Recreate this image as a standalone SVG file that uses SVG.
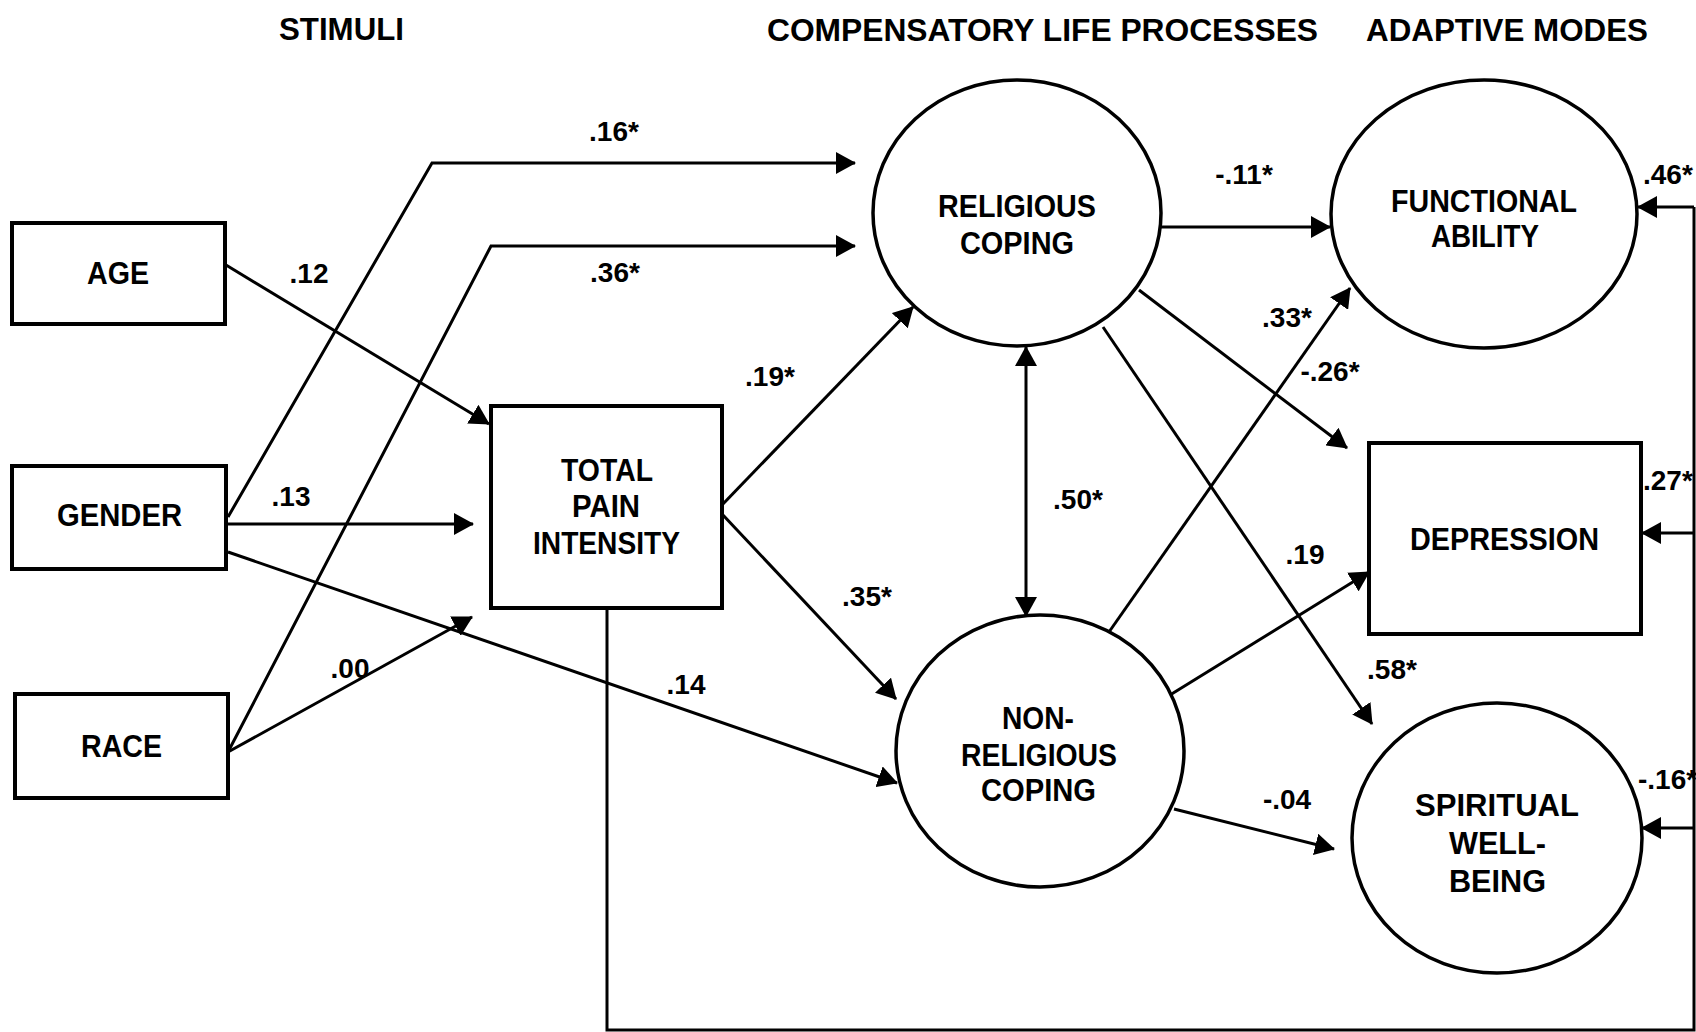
<svg xmlns="http://www.w3.org/2000/svg" width="1696" height="1032" viewBox="0 0 1696 1032">
<defs>
<style>
.box{fill:#fff;stroke:#000;stroke-width:4}
.ell{fill:#fff;stroke:#000;stroke-width:3.5}
.ln{fill:none;stroke:#000;stroke-width:3}
.arr{marker-end:url(#ah)}
text{font-family:"Liberation Sans",Arial,sans-serif;font-weight:bold;fill:#000}
.t{font-size:31px;text-anchor:middle}
.n{font-size:32px;text-anchor:middle}
.l{font-size:28px;text-anchor:middle}
.ls{font-size:28px;text-anchor:start}
</style>
<marker id="ah" viewBox="0 0 20 22" refX="19" refY="11" markerWidth="20" markerHeight="22" markerUnits="userSpaceOnUse" orient="auto-start-reverse">
<path d="M0,0 L20,11 L0,22 z" fill="#000"/>
</marker>
</defs>
<rect width="1696" height="1032" fill="#fff"/>

<g id="titles">
<text class="t" x="341.5" y="40" textLength="125" lengthAdjust="spacingAndGlyphs">STIMULI</text>
<text class="t" x="1042.5" y="41" textLength="551" lengthAdjust="spacingAndGlyphs">COMPENSATORY LIFE PROCESSES</text>
<text class="t" x="1507" y="41" textLength="282" lengthAdjust="spacingAndGlyphs">ADAPTIVE MODES</text>
</g>

<g id="connectors">
<path class="ln arr" d="M226 265 L489 424"/>
<path class="ln arr" d="M228 517 L432 163 L855 163"/>
<path class="ln arr" d="M228 752 L491 246 L855 246"/>
<path class="ln arr" d="M228 524 L473 524"/>
<path class="ln arr" d="M228 752 L472 617"/>
<path class="ln arr" d="M228 552 L897 783"/>
<path class="ln arr" d="M722 505 L913 307"/>
<path class="ln arr" d="M722 514 L896 699"/>
<path class="ln arr" d="M1161 227 L1330 227"/>
<path class="ln arr" d="M1026 347 L1026 616" marker-start="url(#ah)"/>
<path class="ln arr" d="M1139 290 L1347 448"/>
<path class="ln arr" d="M1103 327 L1372 724"/>
<path class="ln arr" d="M1109 632 L1350 288"/>
<path class="ln arr" d="M1170 695 L1369 572"/>
<path class="ln arr" d="M1174 809 L1334 849"/>
<path class="ln" d="M607 608 V1030 H1694 V207"/>
<path class="ln arr" d="M1694 207 H1638"/>
<path class="ln arr" d="M1694 533 H1642"/>
<path class="ln arr" d="M1694 828 H1642"/>
</g>

<g id="edge-labels">
<text class="l" x="614" y="141">.16*</text>
<text class="l" x="615" y="282">.36*</text>
<text class="l" x="309" y="283">.12</text>
<text class="l" x="291" y="506">.13</text>
<text class="l" x="350" y="678">.00</text>
<text class="l" x="686" y="694">.14</text>
<text class="l" x="770" y="386">.19*</text>
<text class="l" x="867" y="606">.35*</text>
<text class="l" x="1244" y="184">-.11*</text>
<text class="l" x="1287" y="327">.33*</text>
<text class="l" x="1330" y="381">-.26*</text>
<text class="l" x="1078" y="509">.50*</text>
<text class="l" x="1305" y="564">.19</text>
<text class="l" x="1392" y="679">.58*</text>
<text class="l" x="1287" y="809">-.04</text>
<text class="ls" x="1643" y="184">.46*</text>
<text class="ls" x="1643" y="490">.27*</text>
<text class="ls" x="1638" y="789">-.16*</text>
</g>

<g id="age">
<rect class="box" x="12" y="223" width="213" height="101"/>
<text class="n" x="118" y="284" textLength="62" lengthAdjust="spacingAndGlyphs">AGE</text>
</g>
<g id="gender">
<rect class="box" x="12" y="466" width="214" height="103"/>
<text class="n" x="119.5" y="526" textLength="125" lengthAdjust="spacingAndGlyphs">GENDER</text>
</g>
<g id="race">
<rect class="box" x="15" y="694" width="213" height="104"/>
<text class="n" x="121.5" y="757" textLength="81" lengthAdjust="spacingAndGlyphs">RACE</text>
</g>
<g id="total-pain">
<rect class="box" x="491" y="406" width="231" height="202"/>
<text class="n" x="607" y="481" textLength="92" lengthAdjust="spacingAndGlyphs">TOTAL</text>
<text class="n" x="606" y="517" textLength="68" lengthAdjust="spacingAndGlyphs">PAIN</text>
<text class="n" x="606.5" y="554" textLength="147" lengthAdjust="spacingAndGlyphs">INTENSITY</text>
</g>
<g id="religious-coping">
<ellipse class="ell" cx="1017" cy="213" rx="144" ry="133"/>
<text class="n" x="1017" y="217" textLength="158" lengthAdjust="spacingAndGlyphs">RELIGIOUS</text>
<text class="n" x="1017" y="254" textLength="114" lengthAdjust="spacingAndGlyphs">COPING</text>
</g>
<g id="non-religious-coping">
<ellipse class="ell" cx="1040" cy="751" rx="144" ry="136"/>
<text class="n" x="1038" y="729" textLength="72" lengthAdjust="spacingAndGlyphs">NON-</text>
<text class="n" x="1039" y="766" textLength="156" lengthAdjust="spacingAndGlyphs">RELIGIOUS</text>
<text class="n" x="1038.5" y="801" textLength="115" lengthAdjust="spacingAndGlyphs">COPING</text>
</g>
<g id="functional-ability">
<ellipse class="ell" cx="1484" cy="214" rx="153" ry="134"/>
<text class="n" x="1484" y="212" textLength="186" lengthAdjust="spacingAndGlyphs">FUNCTIONAL</text>
<text class="n" x="1485" y="247" textLength="108" lengthAdjust="spacingAndGlyphs">ABILITY</text>
</g>
<g id="depression">
<rect class="box" x="1369" y="443" width="272" height="191"/>
<text class="n" x="1504.5" y="550" textLength="189" lengthAdjust="spacingAndGlyphs">DEPRESSION</text>
</g>
<g id="spiritual-well-being">
<ellipse class="ell" cx="1497" cy="838" rx="145" ry="135"/>
<text class="n" x="1497" y="816" textLength="164" lengthAdjust="spacingAndGlyphs">SPIRITUAL</text>
<text class="n" x="1497.5" y="854" textLength="97" lengthAdjust="spacingAndGlyphs">WELL-</text>
<text class="n" x="1497.5" y="892" textLength="97" lengthAdjust="spacingAndGlyphs">BEING</text>
</g>
</svg>
